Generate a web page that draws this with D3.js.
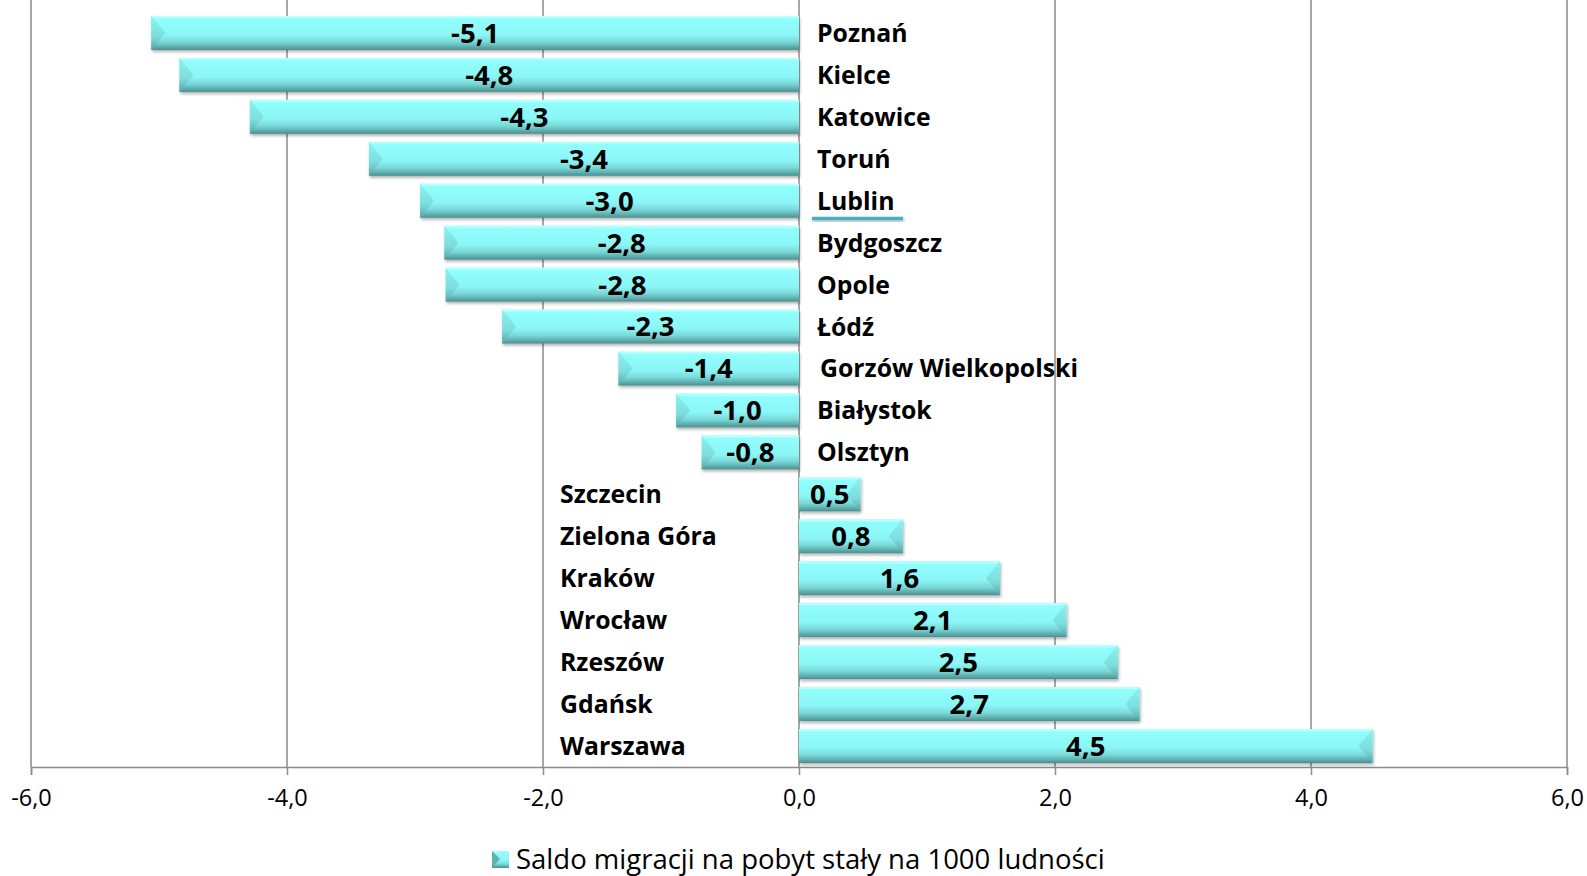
<!DOCTYPE html>
<html>
<head>
<meta charset="utf-8">
<script src="https://cdn.jsdelivr.net/npm/d3@7"></script>
<style>
body { margin: 0; background: #fff; }
text { font-family: "Open Sans", sans-serif; fill: #000; }
</style>
</head>
<body>
<script>

// dane - saldo migracji na 1000 ludnosci
var miasta = ["Poznań", "Kielce", "Katowice", "Toruń", "Lublin", "Bydgoszcz", "Opole", "Łódź",
  "Gorzów Wielkopolski", "Białystok", "Olsztyn", "Szczecin", "Zielona Góra", "Kraków",
  "Wrocław", "Rzeszów", "Gdańsk", "Warszawa"];
var saldo = [-5.06, -4.84, -4.29, -3.36, -2.96, -2.77, -2.76, -2.32,
  -1.41, -0.96, -0.76, 0.48, 0.81, 1.57,
  2.09, 2.49, 2.66, 4.48];
var ticks = [-6, -4, -2, 0, 2, 4, 6];
var legendLabel = "Saldo migracji na pobyt stały na 1000 ludności";

var W = 1587, H = 876;
var margin = {top: 12, right: 1567, bottom: 767, left: 31};

var svg = d3.select("body").append("svg")
  .attr("width", W)
  .attr("height", H);

var defs = svg.append("defs");

var g1 = defs.append("linearGradient").attr("id", "barFill")
  .attr("x1", 0).attr("y1", 0).attr("x2", 0).attr("y2", 1);
g1.append("stop").attr("offset", "0%").attr("stop-color", "#a8ffff");
g1.append("stop").attr("offset", "10%").attr("stop-color", "#91fdfd");
g1.append("stop").attr("offset", "55%").attr("stop-color", "#8cf6f6");
g1.append("stop").attr("offset", "76%").attr("stop-color", "#7ad9d9");
g1.append("stop").attr("offset", "90%").attr("stop-color", "#5fb0b0");
g1.append("stop").attr("offset", "100%").attr("stop-color", "#4a8e8e");

var g2 = defs.append("linearGradient").attr("id", "endFill")
  .attr("x1", 0).attr("y1", 0).attr("x2", 0).attr("y2", 1);
g2.append("stop").attr("offset", "0%").attr("stop-color", "#8af2f2");
g2.append("stop").attr("offset", "60%").attr("stop-color", "#7ddddd");
g2.append("stop").attr("offset", "100%").attr("stop-color", "#5aa6a6");

var sh = defs.append("filter").attr("id", "shadow")
  .attr("x", "-5%").attr("y", "-30%").attr("width", "110%").attr("height", "170%");
sh.append("feDropShadow").attr("dx", 1).attr("dy", 2).attr("stdDeviation", 1.5)
  .attr("flood-color", "#000").attr("flood-opacity", 0.3);

var x = d3.scaleLinear().domain([-6, 6]).range([margin.left, margin.right]);
var y = d3.scaleBand().domain(miasta).range([margin.top, margin.bottom])
  .paddingInner(0.19).paddingOuter(0.095);

function fmt(d) { return d3.format(".1f")(d).replace(".", ",").replace("−", "-"); }

// siatka pionowa
svg.append("g").selectAll("line")
  .data(ticks)
  .enter()
  .append("line")
  .attr("x1", function(d) { return x(d); })
  .attr("x2", function(d) { return x(d); })
  .attr("y1", 0)
  .attr("y2", margin.bottom)
  .attr("stroke", "#8a8a8a")
  .attr("stroke-width", 1.5);

// os x
var axis = svg.append("g")
  .attr("transform", "translate(0," + margin.bottom + ")")
  .call(d3.axisBottom(x).tickValues(ticks).tickSize(8).tickPadding(14).tickFormat(fmt));
axis.select(".domain").attr("stroke", "#8a8a8a").attr("stroke-width", 1.5);
axis.selectAll(".tick line").attr("stroke", "#8a8a8a").attr("stroke-width", 1.5);
axis.selectAll(".tick text")
  .style("font-family", "'Open Sans', sans-serif")
  .style("font-size", "23.5px")
  .attr("fill", "#000");

// slupki
var bevel = 14;
var bar = svg.append("g").selectAll("g")
  .data(saldo)
  .enter()
  .append("g")
  .attr("filter", "url(#shadow)");

bar.append("rect")
  .attr("x", function(d) { return x(Math.min(0, d)); })
  .attr("y", function(d, i) { return y(miasta[i]); })
  .attr("width", function(d) { return Math.abs(x(d) - x(0)); })
  .attr("height", y.bandwidth())
  .attr("fill", "url(#barFill)");

bar.append("rect")
  .attr("x", function(d) { return x(Math.min(0, d)); })
  .attr("y", function(d, i) { return y(miasta[i]); })
  .attr("width", function(d) { return Math.abs(x(d) - x(0)); })
  .attr("height", 2)
  .attr("fill", "#b8ffff");

// skos na koncu slupka
bar.append("polygon")
  .attr("points", function(d, i) {
    var x0 = x(d), t = y(miasta[i]), b = t + y.bandwidth();
    var s = d < 0 ? bevel : -bevel;
    return [[x0, t], [x0 + s, (t + b) / 2], [x0, b]].join(" ");
  })
  .attr("fill", "url(#endFill)");

// etykiety wartosci
svg.append("g").selectAll("text")
  .data(saldo)
  .enter()
  .append("text")
  .attr("x", function(d) { return (x(d) + x(0)) / 2; })
  .attr("y", function(d, i) { return y(miasta[i]) + y.bandwidth() / 2; })
  .attr("dy", "0.36em")
  .attr("text-anchor", "middle")
  .style("font-size", "27.5px")
  .style("font-weight", "bold")
  .text(fmt);

// nazwy miast
svg.append("g").selectAll("text")
  .data(miasta)
  .enter()
  .append("text")
  .attr("x", function(d, i) {
    if (saldo[i] < 0) return x(0) + (d == "Gorzów Wielkopolski" ? 21 : 18);
    return 560;
  })
  .attr("y", function(d) { return y(d) + y.bandwidth() / 2; })
  .attr("dy", "0.36em")
  .style("font-size", "24.8px")
  .style("font-weight", "bold")
  .text(function(d) { return d; });

// niebieska kreska pod Lublinem
var ly = y("Lublin") + y.bandwidth() / 2 + 16;
svg.append("rect")
  .attr("x", x(0) + 13).attr("width", 91)
  .attr("y", ly).attr("height", 3.5)
  .attr("fill", "#4bacc6")
  .attr("filter", "url(#shadow)");

// legenda
svg.append("rect")
  .attr("x", 492).attr("y", 851)
  .attr("width", 17).attr("height", 17)
  .attr("fill", "url(#barFill)");
svg.append("polygon")
  .attr("points", "492,851 500,859 492,868")
  .attr("fill", "#5fb0b0");
svg.append("text")
  .attr("x", 516).attr("y", 859)
  .attr("dy", "0.36em")
  .style("font-size", "27.5px")
  .text(legendLabel);

</script>
</body>
</html>
